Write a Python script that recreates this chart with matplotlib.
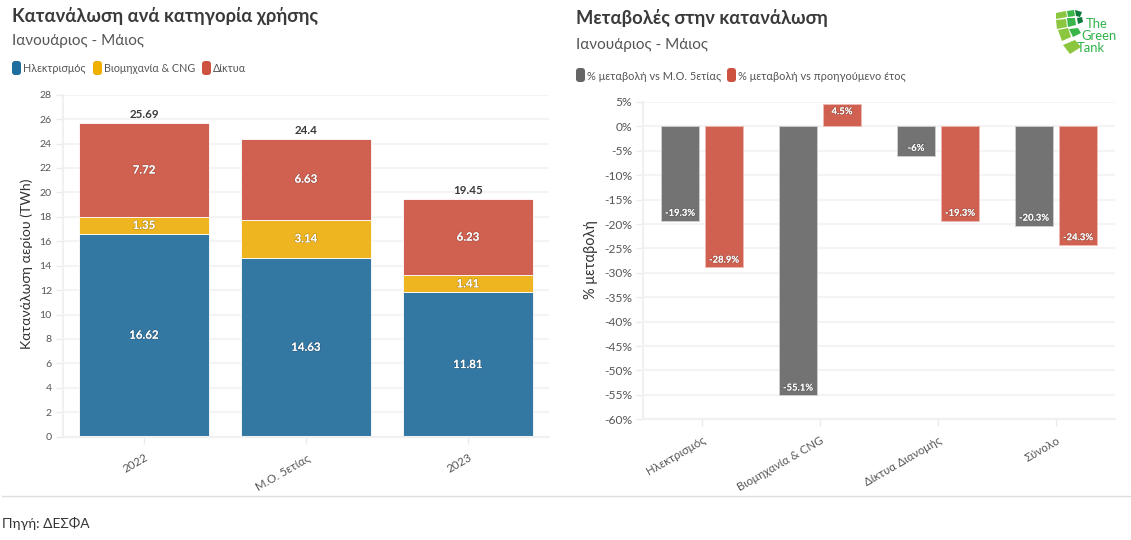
import matplotlib
matplotlib.use('Agg')
import matplotlib.pyplot as plt
import matplotlib.patheffects as pe
from matplotlib.patches import FancyBboxPatch, Polygon
from matplotlib.lines import Line2D
import numpy as np

plt.rcParams['font.family'] = ['Lato', 'Roboto', 'Open Sans', 'DejaVu Sans']

W, H = 1131, 540

# left chart data
years = ['2022', 'Μ.Ο. 5ετίας', '2023']
electricity = [16.62, 14.63, 11.81]
industry = [1.35, 3.14, 1.41]
networks = [7.72, 6.63, 6.23]
totals = ['25.69', '24.4', '19.45']
left_legend = ['Ηλεκτρισμός', 'Βιομηχανία & CNG', 'Δίκτυα']
left_ticks = list(range(0, 29, 2))

# right chart data
cats = ['Ηλεκτρισμός', 'Βιομηχανία & CNG', 'Δίκτυα Διανομής', 'Σύνολο']
vs_avg = [-19.3, -55.1, -6, -20.3]
vs_prev = [-28.9, 4.5, -19.3, -24.3]
right_legend = ['% μεταβολή vs Μ.Ο. 5ετίας', '% μεταβολή vs προηγούμενο έτος']
right_ticks = list(range(-60, 6, 5))

BLUE = '#3377a3'
YELLOW = '#efb520'
RED = '#d06050'
GREY = '#737373'
GRID = '#f4f4f4'
TEXT = '#555555'

fig = plt.figure(figsize=(W / 100, H / 100), dpi=100, facecolor='white')


def px(size):
    return size * 0.72


def ftext(x, y, s, **kw):
    fig.text(x / W, 1 - y / H, s, va='center', **kw)


def make_axes(l, r, t, b):
    ax = fig.add_axes([l / W, 1 - b / H, (r - l) / W, (b - t) / H])
    for name in ['top', 'right']:
        ax.spines[name].set_visible(False)
    for name in ['left', 'bottom']:
        ax.spines[name].set_color('#f0f0f0')
        ax.spines[name].set_linewidth(1.5)
    ax.set_axisbelow(True)
    ax.grid(axis='y', color=GRID, linewidth=1.5)
    ax.tick_params(color='#ebebeb', length=5, width=1, labelcolor=TEXT)
    return ax


def swatch(x, y, color):
    # display coords, origin at the bottom
    fig.add_artist(FancyBboxPatch((x + 2, H - y - 5), 5, 10, boxstyle='round,pad=2,rounding_size=3',
                                  transform=None, fc=color, ec='none'))


def white_label(ax, x, y, s, size, weight='bold'):
    ax.text(x, y, s, color='white', fontsize=px(size), fontweight=weight, ha='center', va='center',
            path_effects=[pe.withStroke(linewidth=1, foreground='#00000030')])


# left chart
ax1 = make_axes(63, 549, 94.7, 436.7)
x = np.arange(len(years))
bottom = np.zeros(len(years))
for vals, col in [(electricity, BLUE), (industry, YELLOW), (networks, RED)]:
    ax1.bar(x, vals, 0.8, bottom=bottom, color=col, edgecolor='white', linewidth=0.6)
    for i, v in enumerate(vals):
        white_label(ax1, x[i], bottom[i] + v / 2, f'{v:.2f}', 11.5)
    bottom += np.array(vals)
for i, t in enumerate(totals):
    ax1.annotate(t, (x[i], bottom[i]), xytext=(0, 6), textcoords='offset points', ha='center',
                 va='center', fontsize=px(11.5), fontweight='bold', color='#3a3a3a')
ax1.set_xlim(-0.5, 2.5)
ax1.set_ylim(0, 28)
ax1.set_yticks(left_ticks)
ax1.tick_params(axis='y', labelsize=px(10.5), pad=3)
ax1.set_xticks(x)
ax1.set_xticklabels(years, rotation=30, ha='right', rotation_mode='anchor', fontsize=px(11.5))
ax1.tick_params(axis='x', pad=6)
ftext(27, 264, 'Κατανάλωση αερίου (TWh)', rotation=90, ha='center', fontsize=px(14), color='#333333')

# right chart
ax2 = make_axes(643, 1115, 102, 419.3)
x2 = np.arange(len(cats))
off = 22 / 118
bw = 38 / 118
ax2.bar(x2 - off, vs_avg, bw, color=GREY, edgecolor='#cfcfcf', linewidth=0.6)
ax2.bar(x2 + off, vs_prev, bw, color=RED, edgecolor='#eeb9b0', linewidth=0.6)
for i in range(len(cats)):
    for xp, v in [(x2[i] - off, vs_avg[i]), (x2[i] + off, vs_prev[i])]:
        # label sits just inside the bar end
        yp = v + 1.5 if v < 0 else v - 1.5
        white_label(ax2, xp, yp, f'{v:g}%', 9.5)
ax2.set_xlim(-0.5, 3.5)
ax2.set_ylim(-60, 5)
ax2.set_yticks(right_ticks)
ax2.set_yticklabels([f'{t}%' for t in right_ticks], fontsize=px(12))
ax2.tick_params(axis='y', pad=3)
ax2.set_xticks(x2)
ax2.set_xticklabels(cats, rotation=30, ha='right', rotation_mode='anchor', fontsize=px(11.5))
ax2.tick_params(axis='x', pad=6)
ftext(591, 260, '% μεταβολή', rotation=90, ha='center', fontsize=px(14.5), color='#333333')

# titles
ftext(12, 16, 'Κατανάλωση ανά κατηγορία χρήσης', fontsize=px(18.4), fontweight='bold', color='#3a3a3a')
ftext(12, 41, 'Ιανουάριος - Μάιος', fontsize=px(15.2), color='#555555')
ftext(576, 18, 'Μεταβολές στην κατανάλωση', fontsize=px(18.4), fontweight='bold', color='#3a3a3a')
ftext(576, 45, 'Ιανουάριος - Μάιος', fontsize=px(15.2), color='#555555')

# legends
lx = [12, 93, 202]
for xp, lab, col in zip(lx, left_legend, ['#1f6f9e', '#f0b000', '#cd5240']):
    swatch(xp, 68, col)
    ftext(xp + 11, 69, lab, fontsize=px(10.8), color=TEXT)
rx = [576, 727]
for xp, lab, col in zip(rx, right_legend, ['#666666', '#cd5240']):
    swatch(xp, 75, col)
    ftext(xp + 11, 76, lab, fontsize=px(11), color=TEXT)

# footer
fig.add_artist(Line2D([2 / W, 1], [1 - 496 / H] * 2, color='#dddddd', linewidth=1))
ftext(2, 523, 'Πηγή: ΔΕΣΦΑ', fontsize=px(13.7), color='#333333')

# logo, rough shapes
logo_shapes = [
    ([(1056, 13), (1066, 11), (1067, 17), (1056, 19)], '#8cc63f'),
    ([(1067, 11), (1074, 10), (1075, 16), (1068, 17)], '#39b54a'),
    ([(1075, 10), (1082, 12), (1080, 17), (1076, 16)], '#0f7a3c'),
    ([(1056, 20), (1066, 19), (1067, 27), (1057, 29)], '#8cc63f'),
    ([(1067, 18), (1075, 18), (1076, 25), (1068, 27)], '#39b54a'),
    ([(1077, 18), (1082, 17), (1083, 22), (1078, 24)], '#0f7a3c'),
    ([(1058, 30), (1068, 28), (1071, 37), (1062, 41)], '#8cc63f'),
    ([(1069, 29), (1078, 28), (1081, 33), (1073, 37)], '#39b54a'),
    ([(1063, 45), (1075, 40), (1081, 47), (1070, 54)], '#8cc63f'),
]
for pts, col in logo_shapes:
    fig.add_artist(Polygon([(a / W, 1 - b / H) for a, b in pts], transform=fig.transFigure, fc=col, ec='none'))
ftext(1086, 24, 'The', fontsize=px(13), color='#2fb34a')
ftext(1081, 36, 'Green', fontsize=px(13), color='#2fb34a')
ftext(1077, 48, 'Tank', fontsize=px(13), color='#2fb34a')

fig.savefig('out.png', dpi=100)
